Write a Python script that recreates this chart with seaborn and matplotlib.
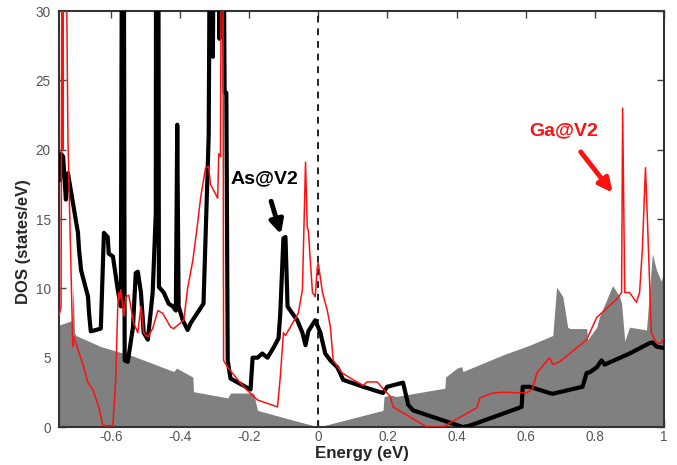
import numpy as np
import pandas as pd
import matplotlib
matplotlib.use("Agg")
import matplotlib.pyplot as plt
import seaborn as sns

# total DOS (grey shaded)
tot_e = [-0.75, -0.721, -0.712, -0.709, -0.705, -0.701, -0.629, -0.534, -0.418, -0.410,
         -0.363, -0.361, -0.262, -0.254, -0.187, -0.176, 0.0, 0.187, 0.19, 0.21, 0.225,
         0.366, 0.368, 0.401, 0.415, 0.418, 0.534, 0.611, 0.678, 0.689, 0.707, 0.721,
         0.727, 0.776, 0.779, 0.805, 0.813, 0.851, 0.871, 0.877, 0.886, 0.9, 0.949,
         0.966, 0.978, 0.992, 1.0]
tot_dos = [7.35, 7.6, 7.7, 10.2, 6.8, 6.6, 5.8, 5.1, 4.0, 4.25,
           3.6, 2.55, 2.1, 2.45, 2.45, 1.2, 0.0, 1.2, 2.2, 2.3, 2.2,
           2.8, 3.6, 4.25, 4.35, 4.0, 5.2, 5.9, 6.6, 10.1, 9.4, 7.2,
           7.1, 7.1, 6.3, 7.2, 7.95, 10.2, 9.4, 8.9, 6.2, 7.2, 7.0,
           12.5, 11.3, 10.5, 11.5]

# As@V2 (thick black)
as_e = [-0.747, -0.744, -0.738, -0.730, -0.724, -0.695, -0.692, -0.686, -0.666, -0.663,
        -0.658, -0.643, -0.629, -0.620, -0.609, -0.606, -0.594, -0.580, -0.571, -0.567,
        -0.563, -0.560, -0.551, -0.536, -0.528, -0.522, -0.513, -0.505, -0.493, -0.479,
        -0.470, -0.469, -0.463, -0.461, -0.447, -0.433, -0.421, -0.412, -0.408, -0.404,
        -0.392, -0.378, -0.369, -0.332, -0.317, -0.312, -0.308, -0.305, -0.300, -0.290,
        -0.286, -0.282, -0.276, -0.271, -0.266, -0.262, -0.254, -0.196, -0.190, -0.176,
        -0.162, -0.147, -0.130, -0.115, -0.110, -0.101, -0.095, -0.089, -0.081, -0.061,
        -0.046, -0.037, -0.029, -0.009, 0.006, 0.020, 0.035, 0.055, 0.072, 0.130,
        0.187, 0.199, 0.245, 0.260, 0.274, 0.418, 0.438, 0.588, 0.591, 0.611,
        0.669, 0.678, 0.764, 0.776, 0.785, 0.805, 0.819, 0.828, 0.900, 0.958,
        0.966, 0.978, 0.998]
as_dos = [17.8, 19.7, 19.5, 16.4, 18.3, 14.0, 12.8, 11.3, 9.4, 8.2,
          6.9, 7.0, 7.1, 14.0, 13.7, 12.5, 12.3, 9.9, 8.7, 45,
          45, 4.8, 4.7, 7.2, 11.1, 11.2, 9.7, 6.8, 6.3, 9.7,
          15.4, 45, 45, 10.1, 9.7, 8.9, 8.7, 8.4, 21.8, 8.7,
          7.7, 7.0, 7.5, 8.9, 21.0, 45, 45, 26.7, 45, 45,
          28.0, 45, 45, 24.1, 24.1, 4.8, 3.5, 2.7, 5.0, 5.0,
          5.3, 5.0, 5.7, 6.4, 8.2, 13.6, 13.7, 8.7, 8.4, 7.7,
          6.8, 5.9, 6.9, 7.7, 6.8, 5.3, 4.8, 4.3, 3.4, 2.9,
          2.45, 2.9, 3.2, 1.6, 1.2, 0.0, 0.1, 1.45, 2.9, 2.9,
          2.45, 2.4, 2.9, 3.9, 3.95, 4.3, 4.8, 4.5, 5.3, 6.05,
          6.1, 5.8, 5.7]

# Ga@V2 (thin red)
ga_e = [-0.75, -0.744, -0.741, -0.739, -0.736, -0.731, -0.724, -0.710, -0.707, -0.678,
        -0.666, -0.652, -0.635, -0.623, -0.594, -0.586, -0.580, -0.577, -0.574, -0.571,
        -0.562, -0.557, -0.548, -0.534, -0.522, -0.513, -0.505, -0.493, -0.479, -0.464,
        -0.450, -0.427, -0.418, -0.389, -0.378, -0.363, -0.349, -0.340, -0.326, -0.317,
        -0.312, -0.291, -0.288, -0.283, -0.280, -0.276, -0.274, -0.262, -0.216, -0.176,
        -0.118, -0.110, -0.101, -0.095, -0.081, -0.072, -0.058, -0.046, -0.037, -0.032,
        -0.029, -0.017, -0.009, -0.003, 0.0, 0.012, 0.026, 0.035, 0.043, 0.069,
        0.101, 0.130, 0.141, 0.170, 0.199, 0.208, 0.216, 0.314, 0.361, 0.381,
        0.459, 0.467, 0.505, 0.534, 0.545, 0.603, 0.620, 0.632, 0.669, 0.678,
        0.698, 0.776, 0.805, 0.862, 0.877, 0.880, 0.886, 0.900, 0.920, 0.929,
        0.937, 0.946, 0.952, 0.963, 0.978, 0.992, 0.998]
ga_dos = [8.0, 8.7, 40, 20, 40, 40, 20.7, 5.8, 6.5, 4.3,
          3.2, 2.7, 1.45, 0.1, 0.1, 3.4, 8.7, 9.7, 9.2, 9.9,
          8.0, 9.4, 9.5, 7.5, 6.8, 8.7, 6.8, 6.5, 7.1, 8.4,
          8.2, 7.2, 7.1, 7.7, 10.0, 12.0, 14.7, 16.6, 18.7, 18.8,
          17.5, 16.5, 19.7, 19.5, 40, 40, 4.8, 4.3, 2.9, 1.95,
          1.45, 3.6, 6.8, 6.6, 7.2, 7.6, 8.2, 9.9, 19.1, 14.4,
          14.2, 9.7, 9.4, 11.5, 11.8, 9.7, 8.4, 7.2, 4.8, 3.9,
          3.4, 3.0, 3.25, 3.25, 2.45, 2.2, 1.45, 0.0, 0.0, 0.3,
          1.4, 2.1, 2.45, 2.5, 2.5, 2.45, 2.8, 3.9, 5.0, 4.5,
          4.7, 6.3, 7.9, 9.2, 9.7, 23.0, 9.7, 9.7, 9.0, 9.7,
          12.8, 18.7, 14.7, 6.8, 6.05, 6.05, 6.4]

xticks = [-0.6, -0.4, -0.2, 0, 0.2, 0.4, 0.6, 0.8, 1]
xtick_labels = ["-0.6", "-0.4", "-0.2", "0", "0.2", "0.4", "0.6", "0.8", "1"]
yticks = [0, 5, 10, 15, 20, 25, 30]

sns.set_style("ticks")
plt.rcParams['font.family'] = ['Liberation Sans', 'DejaVu Sans']

fig = plt.figure(figsize=(6.77, 4.65), dpi=100)
ax = fig.add_axes([0.0871, 0.0817, 0.8939, 0.8946])

ax.fill_between(tot_e, tot_dos, 0, color="#808080", lw=0, zorder=1)
ax.axvline(0, color="#222222", ls=(0, (3.5, 3)), lw=1.4, zorder=2)

as_df = pd.DataFrame({"E": as_e, "DOS": as_dos})
ga_df = pd.DataFrame({"E": ga_e, "DOS": ga_dos})
sns.lineplot(data=as_df, x="E", y="DOS", color="black", lw=3.0, sort=False,
             estimator=None, ax=ax, zorder=3)
sns.lineplot(data=ga_df, x="E", y="DOS", color="#ff1010", lw=1.1, sort=False,
             estimator=None, ax=ax, zorder=4)

ax.set_xlim(-0.75, 1.0)
ax.set_ylim(0, 30)
ax.set_xticks(xticks)
ax.set_xticklabels(xtick_labels)
ax.set_yticks(yticks)
ax.tick_params(direction="in", length=5, width=1, top=True, right=True,
               labelsize=9.8, labelcolor="#555555", color="#444444", pad=6)
ax.tick_params(axis="x", pad=2.5)
for s in ax.spines.values():
    s.set_color("#333333")
    s.set_linewidth(1.5)

ax.set_xlabel("Energy (eV)", fontsize=12.2, fontweight="bold")
ax.xaxis.set_label_coords(0.5, -0.046)
ax.set_ylabel("DOS (states/eV)", fontsize=12, fontweight="bold")
ax.yaxis.set_label_coords(-0.047, 0.445)

ax.annotate("As@V2", xy=(-0.108, 13.9), xytext=(-0.156, 17.9),
            fontsize=14, fontweight="bold", color="black", ha="center", va="center",
            arrowprops=dict(arrowstyle="-|>", color="black", lw=3.5,
                            mutation_scale=20, shrinkA=8, shrinkB=0), zorder=6)
ax.annotate("Ga@V2", xy=(0.851, 16.9), xytext=(0.710, 21.4),
            fontsize=14, fontweight="bold", color="#ff1010", ha="center", va="center",
            arrowprops=dict(arrowstyle="-|>", color="#ff1010", lw=3.5,
                            mutation_scale=20, shrinkA=9, shrinkB=0), zorder=6)

fig.savefig("out.png", dpi=100)
